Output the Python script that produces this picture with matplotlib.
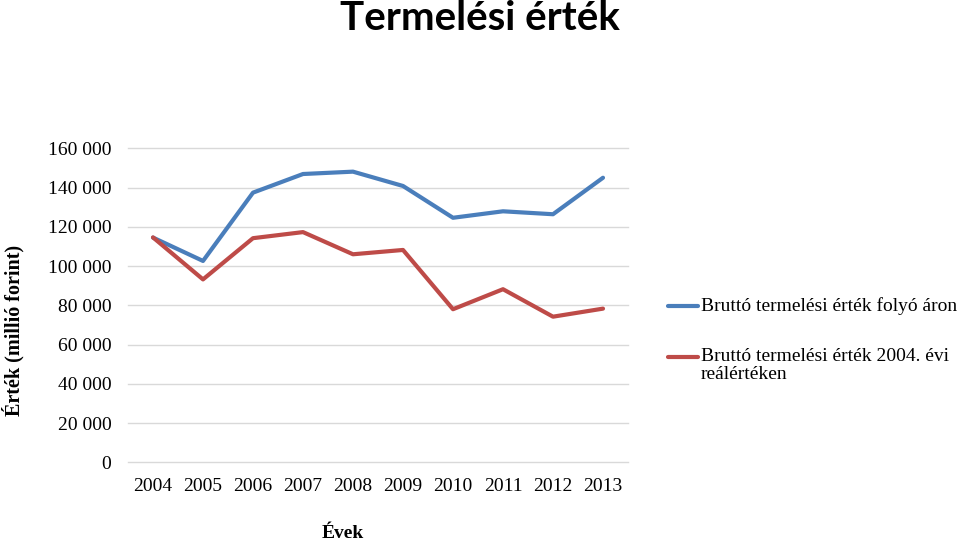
import numpy as np
import matplotlib
matplotlib.use("Agg")
import matplotlib.pyplot as plt
from matplotlib.lines import Line2D

years = ["2004", "2005", "2006", "2007", "2008", "2009", "2010", "2011", "2012", "2013"]
folyo_aron = [114500, 102600, 137400, 146900, 148100, 140800, 124600, 127900, 126400, 145000]
realerteken = [114600, 93200, 114200, 117300, 106000, 108200, 78000, 88200, 74200, 78300]

series_names = ["Bruttó termelési érték folyó áron",
                "Bruttó termelési érték 2004. évi\nreálértéken"]
BLUE = "#4a7ebb"
RED = "#be4b48"
SERIF = "Liberation Serif"

fig = plt.figure(figsize=(9.59, 5.42), dpi=100)
ax = fig.add_axes([128 / 959, 1 - 462.3 / 542, 500 / 959, (462.3 - 148.3) / 542])

x = np.arange(len(years))
ax.plot(x, folyo_aron, color=BLUE, lw=3, solid_capstyle="round", zorder=3)
ax.plot(x, realerteken, color=RED, lw=3, solid_capstyle="round", zorder=3)

ax.set_xlim(-0.5, len(years) - 0.5)
ax.set_ylim(0, 160000)
yt = np.arange(0, 160001, 20000)
ax.set_yticks(yt)
ax.set_yticklabels([f"{v:,}".replace(",", " ") for v in yt],
                   fontfamily=SERIF, fontsize=14)
ax.set_xticks(x)
ax.set_xticklabels(years, fontfamily=SERIF, fontsize=14)
ax.tick_params(axis="y", length=0, pad=12)
ax.tick_params(axis="x", length=0, pad=11)
ax.grid(axis="y", color="#d9d9d9", lw=1, clip_on=False)
ax.set_axisbelow(True)
for sp in ax.spines.values():
    sp.set_visible(False)

fig.text(0.5, 1 - 18 / 542, "Termelési érték", ha="center", va="center",
         fontsize=29, fontweight="bold", fontfamily="Lato")
fig.text(13 / 959, 1 - 330 / 542, "Érték (millió forint)", rotation=90,
         ha="center", va="center", fontsize=14.5, fontweight="bold", fontfamily=SERIF)
fig.text(343 / 959, 1 - 534 / 542, "Évek", ha="center", va="center",
         fontsize=14, fontweight="bold", fontfamily=SERIF)

# legend drawn by hand so the handle sits on the first line of wrapped text
for col, name, yy in [(BLUE, series_names[0], 306), (RED, series_names[1], 357)]:
    fig.add_artist(Line2D([668 / 959, 698 / 959], [1 - yy / 542] * 2,
                          color=col, lw=3, solid_capstyle="round"))
    fig.text(701 / 959, 1 - (yy - 9) / 542, name, ha="left", va="top",
             fontsize=14, fontfamily=SERIF, linespacing=1.05)

fig.savefig("out.png", dpi=100)
